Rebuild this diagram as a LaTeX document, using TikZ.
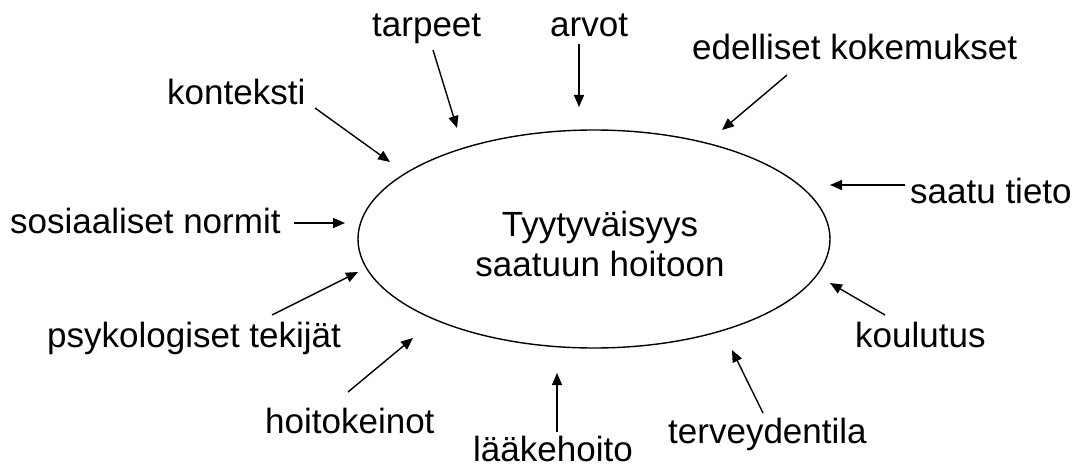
\documentclass[tikz,border=0pt]{standalone}
\usepackage{fontspec}
\setmainfont{Liberation Sans}
\usetikzlibrary{arrows.meta,shapes.geometric}
\begin{document}
\begin{tikzpicture}[x=1pt,y=-1pt,
  lbl/.style={anchor=base west, inner sep=0pt, font=\fontsize{35}{40}\selectfont},
  arr/.style={line width=1.4pt, -{Triangle[length=12pt,width=10pt]}},
  ell/.style={ellipse, draw, line width=1.4pt, minimum width=472pt, minimum height=218pt, inner sep=0pt}]
\useasboundingbox (0,0) rectangle (1079,468);
\fill[white] (0,0) rectangle (1079,468);

\node[ell] (ell) at (594,239) {};
\node[font=\fontsize{35}{40}\selectfont, align=center, inner sep=0pt] (title) at (600,244) {Tyytyväisyys\\saatuun hoitoon};

\node[lbl] (tarpeet) at (372,37) {tarpeet};
\node[lbl] (arvot) at (550,37) {arvot};
\node[lbl] (edelliset) at (692,60) {edelliset kokemukset};
\node[lbl] (konteksti) at (167,105) {konteksti};
\node[lbl] (saatu) at (910,203) {saatu tieto};
\node[lbl] (sosiaaliset) at (10,233) {sosiaaliset normit};
\node[lbl] (psyk) at (47,347) {psykologiset tekijät};
\node[lbl] (koulutus) at (855,347) {koulutus};
\node[lbl] (hoitokeinot) at (265,433) {hoitokeinot};
\node[lbl] (terveys) at (668,443) {terveydentila};
\node[lbl] (laake) at (473,461) {lääkehoito};

\coordinate (tarpeetA) at (433,50);   \coordinate (tarpeetB) at (457,128);
\coordinate (arvotA) at (579,44);     \coordinate (arvotB) at (579,107);
\coordinate (edellisetA) at (787,75); \coordinate (edellisetB) at (722,130);
\coordinate (kontekstiA) at (315,108);\coordinate (kontekstiB) at (390,162);
\coordinate (saatuA) at (905,185);    \coordinate (saatuB) at (830,185);
\coordinate (sosA) at (294,223);      \coordinate (sosB) at (345,223);
\coordinate (psykA) at (272,315);     \coordinate (psykB) at (358,272);
\coordinate (koulA) at (885,315);     \coordinate (koulB) at (830,283);
\coordinate (hoitoA) at (348,392);    \coordinate (hoitoB) at (413,338);
\coordinate (laakeA) at (557,432);    \coordinate (laakeB) at (557,373);
\coordinate (tervA) at (763,413);     \coordinate (tervB) at (732,350);

\draw[arr] (tarpeetA) -- (tarpeetB);
\draw[arr] (arvotA) -- (arvotB);
\draw[arr] (edellisetA) -- (edellisetB);
\draw[arr] (kontekstiA) -- (kontekstiB);
\draw[arr] (saatuA) -- (saatuB);
\draw[arr] (sosA) -- (sosB);
\draw[arr] (psykA) -- (psykB);
\draw[arr] (koulA) -- (koulB);
\draw[arr] (hoitoA) -- (hoitoB);
\draw[arr] (laakeA) -- (laakeB);
\draw[arr] (tervA) -- (tervB);
\end{tikzpicture}
\end{document}
